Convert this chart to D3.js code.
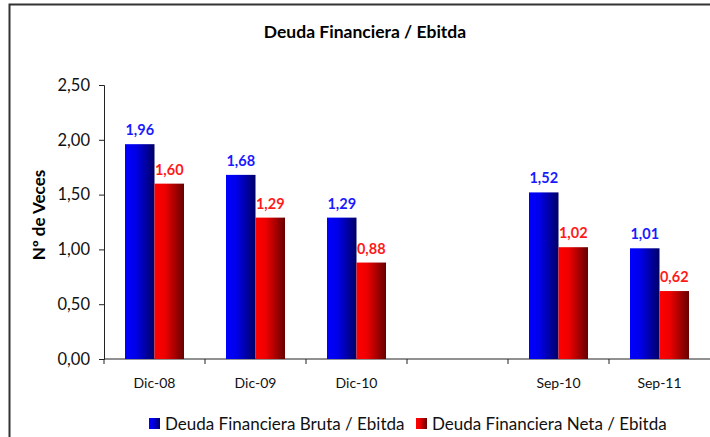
<!DOCTYPE html>
<html>
<head>
<meta charset="utf-8">
<script src="https://cdn.jsdelivr.net/npm/d3@7"></script>
<style>
  body { margin: 0; background: #fff; }
  svg { display: block; font-family: Lato, "Open Sans", sans-serif; }
</style>
</head>
<body>
<svg id="chart" width="710" height="437"></svg>
<script>
// chart data
const categories = ["Dic-08", "Dic-09", "Dic-10", " ", "Sep-10", "Sep-11"];
const seriesNames = ["Deuda Financiera Bruta / Ebitda", "Deuda Financiera Neta / Ebitda"];
const bruta = [1.96, 1.68, 1.29, null, 1.52, 1.01];
const neta = [1.60, 1.29, 0.88, null, 1.02, 0.62];
const yTicks = [0, 0.5, 1, 1.5, 2, 2.5];

const fmt = v => d3.format(".2f")(v).replace(".", ",");

const svg = d3.select("#chart");
const defs = svg.append("defs");

const grads = [
    { id: "gBlue", c0: "#0000ff", c1: "#0000ea", c2: "#000066" },
    { id: "gRed", c0: "#ff0000", c1: "#ee0000", c2: "#660000" }
];
grads.forEach(g => {
    const lg = defs.append("linearGradient").attr("id", g.id)
        .attr("x1", "0%").attr("x2", "100%").attr("y1", "0%").attr("y2", "0%");
    lg.append("stop").attr("offset", "0%").attr("stop-color", g.c0);
    lg.append("stop").attr("offset", "35%").attr("stop-color", g.c1);
    lg.append("stop").attr("offset", "100%").attr("stop-color", g.c2);
});
const labelColors = ["#1a1aff", "#ff1a1a"];

// outer frame
svg.append("rect")
    .attr("x", 9.5).attr("y", 4.5)
    .attr("width", 760).attr("height", 500)
    .attr("fill", "none")
    .attr("stroke", "#333")
    .attr("stroke-width", 2);

const plot = { left: 104, right: 710, top: 85, bottom: 359 };

const x = d3.scaleBand()
    .domain(categories)
    .range([plot.left, plot.right])
    .paddingInner(0).paddingOuter(0);

const xi = d3.scaleBand()
    .domain([0, 1])
    .range([21, 80]);

const y = d3.scaleLinear()
    .domain([0, 2.5])
    .range([plot.bottom, plot.top]);

// title
svg.append("text")
    .attr("x", 365).attr("y", 38)
    .attr("text-anchor", "middle")
    .attr("font-size", 17.5).attr("font-weight", "bold")
    .attr("fill", "#000")
    .text("Deuda Financiera / Ebitda");

// y axis
const yAxis = svg.append("g")
    .attr("transform", `translate(${plot.left},0)`)
    .call(d3.axisLeft(y).tickValues(yTicks).tickFormat(fmt).tickSize(5).tickPadding(9));
yAxis.select(".domain").attr("stroke", "#222");
yAxis.selectAll(".tick line").attr("stroke", "#222");
yAxis.selectAll("text").attr("font-size", 16.5).attr("fill", "#111")
    .attr("font-family", "Lato, sans-serif");

svg.append("text")
    .attr("transform", `translate(45,215) rotate(-90)`)
    .attr("text-anchor", "middle")
    .attr("font-size", 17).attr("font-weight", "bold")
    .attr("fill", "#000")
    .text("Nº de Veces");

// x axis baseline and ticks at slot boundaries
svg.append("line")
    .attr("x1", plot.left).attr("x2", plot.right)
    .attr("y1", y(0)).attr("y2", y(0))
    .attr("stroke", "#222");
svg.selectAll(".xtick")
    .data(categories)
    .enter().append("line")
    .attr("class", "xtick")
    .attr("x1", d => x(d)).attr("x2", d => x(d))
    .attr("y1", y(0)).attr("y2", y(0) + 5)
    .attr("stroke", "#222");
svg.selectAll(".xlab")
    .data(categories)
    .enter().append("text")
    .attr("class", "xlab")
    .attr("x", d => x(d) + x.bandwidth() / 2)
    .attr("y", 388)
    .attr("text-anchor", "middle")
    .attr("font-size", 14).attr("fill", "#111")
    .text(d => d);

// bars
const rows = categories.map((c, i) => ({ c, vals: [bruta[i], neta[i]] }));
const groups = svg.selectAll(".grp")
    .data(rows)
    .enter().append("g")
    .attr("transform", d => `translate(${x(d.c)},0)`);

groups.selectAll("rect")
    .data(d => d.vals.map((v, k) => ({ v, k })).filter(e => e.v != null))
    .enter().append("rect")
    .attr("x", e => xi(e.k))
    .attr("width", xi.bandwidth())
    .attr("y", e => y(e.v))
    .attr("height", e => y(0) - y(e.v))
    .attr("fill", e => `url(#${grads[e.k].id})`);

groups.selectAll(".val")
    .data(d => d.vals.map((v, k) => ({ v, k })).filter(e => e.v != null))
    .enter().append("text")
    .attr("class", "val")
    .attr("x", e => xi(e.k) + xi.bandwidth() / 2)
    .attr("y", e => y(e.v) - 9)
    .attr("text-anchor", "middle")
    .attr("font-size", 14.5).attr("font-weight", "bold")
    .attr("fill", e => labelColors[e.k])
    .text(e => fmt(e.v));

// legend
const legendX = [149, 416];
const legend = svg.selectAll(".leg")
    .data(seriesNames)
    .enter().append("g")
    .attr("transform", (d, i) => `translate(${legendX[i]},418)`);
legend.append("rect")
    .attr("width", 11).attr("height", 11)
    .attr("fill", (d, i) => `url(#${grads[i].id})`);
legend.append("text")
    .attr("x", 16).attr("y", 11.5)
    .attr("font-size", 17).attr("fill", "#111")
    .text(d => d);
</script>
</body>
</html>
